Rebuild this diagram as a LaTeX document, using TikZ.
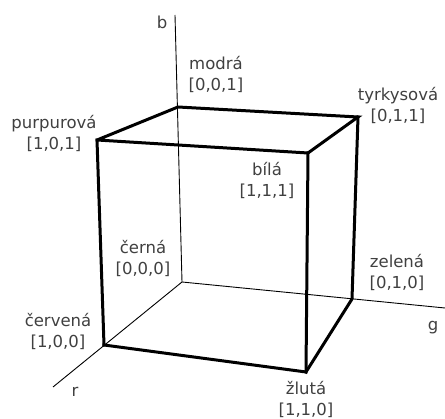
\documentclass[tikz,border=0pt]{standalone}
\usepackage{fontspec}
\setmainfont{DejaVu Sans}
\usepackage{tikz}
\usepackage{xcolor}
\usetikzlibrary{positioning}

\begin{document}
\begin{tikzpicture}[
  x=1pt, y=-1pt,
  edge/.style={line width=3pt, line join=miter, line cap=rect},
  axis/.style={line width=0.9pt},
  lbl/.style={text=black!75, align=center, inner sep=0pt,
              font=\fontsize{16.5}{21}\selectfont},
]
\useasboundingbox (0,0) rectangle (445,419);

% Vertices
\coordinate (cerna)     at (182,282);
\coordinate (cervena)   at (104,345);
\coordinate (zelena)    at (352,299);
\coordinate (zluta)     at (306,372);
\coordinate (modra)     at (178,107);
\coordinate (purpurova) at (97,140);
\coordinate (tyrkysova) at (358,117);
\coordinate (bila)      at (308,153);

% Axis ends
\coordinate (bend) at (175,15);
\coordinate (rend) at (53,387);
\coordinate (gend) at (445,308);

% Axes
\draw[axis] (cerna) -- (bend);
\draw[axis] (cerna) -- (rend);
\draw[axis] (cerna) -- (gend);

% Cube
\draw[edge] (cervena) -- (purpurova) -- (modra) -- (tyrkysova) -- (bila) -- (purpurova);
\draw[edge] (bila) -- (zluta) -- (cervena);
\draw[edge] (tyrkysova) -- (zelena) -- (zluta);

% Axis labels
\node[lbl] (blbl) at (162,22) {b};
\node[lbl] (glbl) at (433,328) {g};
\node[lbl] (rlbl) at (75,392) {r};

% Vertex labels
\node[lbl] (lmodra)     at (216,74)  {modrá\\{}[0,0,1]};
\node[lbl] (ltyrkysova) at (398,105) {tyrkysová\\{}[0,1,1]};
\node[lbl] (lpurpurova) at (54,133)  {purpurová\\{}[1,0,1]};
\node[lbl] (lbila)      at (267,180) {bílá\\{}[1,1,1]};
\node[lbl] (lcerna)     at (143,258) {černá\\{}[0,0,0]};
\node[lbl] (lzelena)    at (397,272) {zelená\\{}[0,1,0]};
\node[lbl] (lcervena)   at (58,331)  {červená\\{}[1,0,0]};
\node[lbl] (lzluta)     at (306,399) {žlutá\\{}[1,1,0]};

\end{tikzpicture}
\end{document}
